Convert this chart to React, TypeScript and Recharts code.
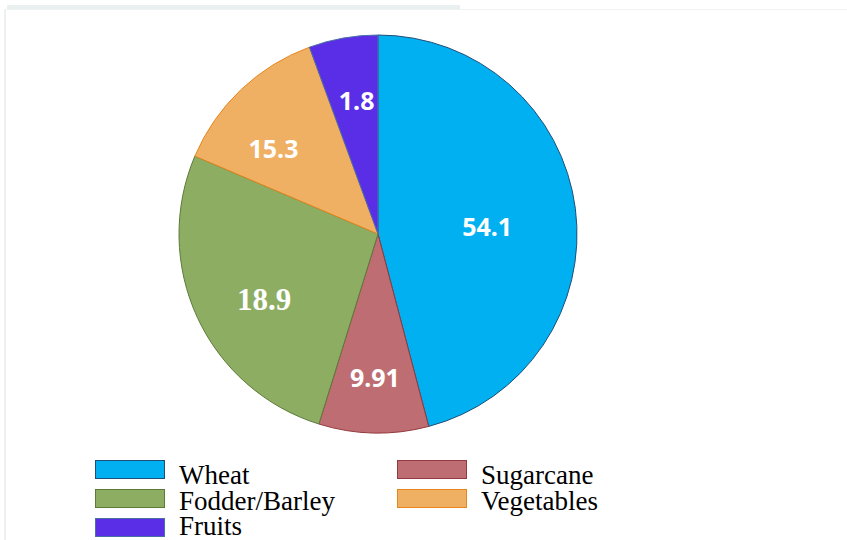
import React from 'react';
import { PieChart, Pie, Cell, Legend } from 'recharts';

// slice names, the share each slice takes in the picture, and the number printed on it
const crops = ['Wheat', 'Sugarcane', 'Fodder/Barley', 'Vegetables', 'Fruits'];
const shares = [45.9, 8.9, 26.6, 13.0, 5.6];
const labels = ['54.1', '9.91', '18.9', '15.3', '1.8'];

const fills = ['#00B0F0', '#BE6E72', '#8DAE62', '#F0B064', '#5A2EE6'];
const strokes = ['#1F4E79', '#943A3E', '#5E7A3A', '#E8861E', '#4A6FA5'];

// label placement per slice: fraction of the radius and a small angle nudge (deg)
const labelPlace = [
  { r: 0.55, shift: -3 },
  { r: 0.72, shift: 0 },
  { r: 0.66, shift: 5 },
  { r: 0.68, shift: 7 },
  { r: 0.68, shift: -1 },
];

const RADIAN = Math.PI / 180;

const data = crops.map((name, i) => ({ name, value: shares[i], label: labels[i] }));

const renderLabel = (props: any) => {
  const { cx, cy, midAngle, outerRadius, index } = props;
  const place = labelPlace[index];
  const a = (midAngle + place.shift) * RADIAN;
  const r = outerRadius * place.r;
  const x = cx + r * Math.cos(-a);
  const y = cy + r * Math.sin(-a);
  const serif = index === 2;
  return (
    <text
      x={x}
      y={y}
      fill="#fff"
      textAnchor="middle"
      dominantBaseline="central"
      fontWeight="bold"
      fontFamily={serif ? '"Liberation Serif", serif' : '"Noto Sans", sans-serif'}
      fontSize={serif ? 31 : 25}
    >
      {labels[index]}
    </text>
  );
};

const renderLegend = () => (
  <div
    style={{
      display: 'grid',
      gridTemplateColumns: '302px 240px',
      fontFamily: '"Liberation Serif", serif',
      fontSize: 27,
      color: '#000',
    }}
  >
    {crops.map((name, i) => {
      const row = Math.floor(i / 2);
      return (
        <div key={name} style={{ display: 'flex', height: 25.5, alignItems: 'flex-start' }}>
          <div
            style={{
              width: 68,
              height: 17,
              marginTop: 1 + row * 3.5,
              background: fills[i],
              border: `1px solid ${strokes[i]}`,
            }}
          />
          <span style={{ marginLeft: 14, lineHeight: '21px', marginTop: 6, whiteSpace: 'nowrap' }}>{name}</span>
        </div>
      );
    })}
  </div>
);

export default function App() {
  return (
    <div style={{ position: 'absolute', left: 0, top: 0, width: 847, height: 540, background: '#fff' }}>
      <div style={{ position: 'absolute', left: 7, top: 5, width: 453, height: 4, background: '#EAF0F0' }} />
      <div
        style={{
          position: 'absolute',
          left: 4,
          top: 9,
          width: 843,
          height: 531,
          borderLeft: '2px solid #EEF1F1',
          borderTop: '1px solid #F0F3F3',
        }}
      />
      <PieChart
        width={847}
        height={540}
        margin={{ top: 0, right: 0, bottom: 0, left: 0 }}
        style={{ position: 'absolute', left: 0, top: 0 }}
      >
        <Pie
          data={data}
          dataKey="value"
          nameKey="name"
          cx={378}
          cy={234}
          outerRadius={199}
          startAngle={90}
          endAngle={-270}
          label={renderLabel}
          labelLine={false}
          isAnimationActive={false}
        >
          {data.map((d, i) => (
            <Cell key={d.name} fill={fills[i]} stroke={strokes[i]} strokeWidth={1} />
          ))}
        </Pie>
        <Legend
          content={renderLegend}
          wrapperStyle={{ position: 'absolute', left: 95, top: 459, width: 560, bottom: 'auto' }}
        />
      </PieChart>
    </div>
  );
}
